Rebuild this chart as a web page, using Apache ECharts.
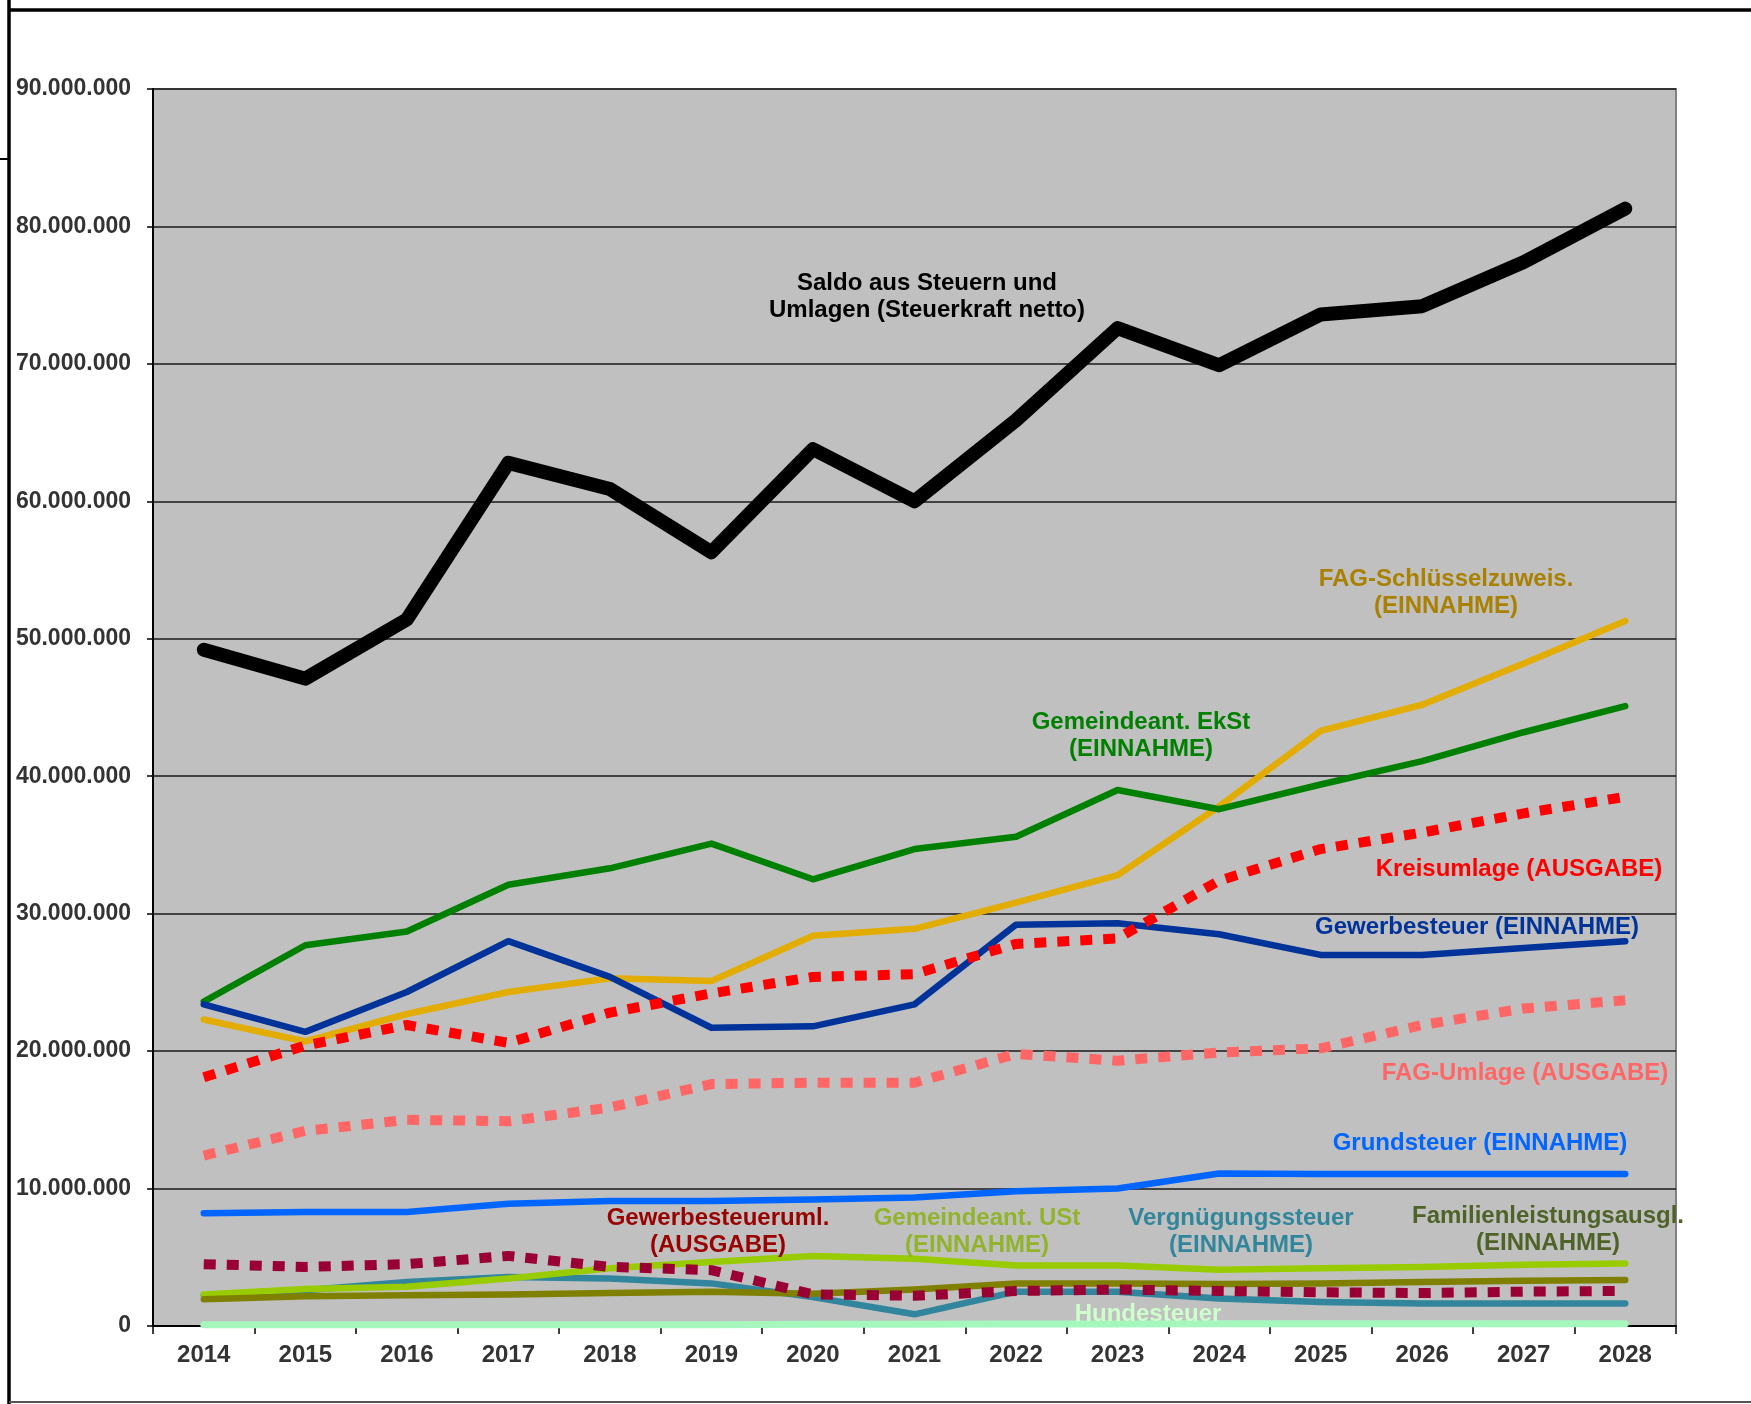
<!DOCTYPE html>
<html>
<head>
<meta charset="utf-8">
<script src="https://cdn.jsdelivr.net/npm/echarts@6/dist/echarts.min.js"></script>
<style>
html,body{margin:0;padding:0;background:#fff;}
#chart{width:1751px;height:1404px;}
</style>
</head>
<body>
<div id="chart"></div>
<script>
const years = ['2014','2015','2016','2017','2018','2019','2020','2021','2022','2023','2024','2025','2026','2027','2028'];
const yTicks = [0,10000000,20000000,30000000,40000000,50000000,60000000,70000000,80000000,90000000];

const saldo = [49.2,47.1,51.4,62.8,60.9,56.3,63.8,60.0,65.9,72.6,69.9,73.6,74.2,77.4,81.3];
const fagSchluessel = [22.3,20.7,22.7,24.3,25.3,25.1,28.4,28.9,30.8,32.8,37.8,43.3,45.2,48.2,51.3];
const ekSt = [23.6,27.7,28.7,32.1,33.3,35.1,32.5,34.7,35.6,39.0,37.6,39.4,41.1,43.2,45.1];
const kreisumlage = [18.1,20.4,21.9,20.6,22.8,24.2,25.4,25.6,27.8,28.2,32.4,34.7,35.9,37.3,38.5];
const gewerbesteuer = [23.4,21.4,24.3,28.0,25.4,21.7,21.8,23.4,29.2,29.3,28.5,27.0,27.0,27.5,28.0];
const fagUmlage = [12.4,14.2,15.0,14.9,15.9,17.6,17.7,17.7,19.8,19.3,19.9,20.2,21.9,23.1,23.7];
const grundsteuer = [8.2,8.3,8.3,8.9,9.1,9.1,9.2,9.35,9.8,10.0,11.1,11.05,11.05,11.05,11.05];
const gewUmlage = [4.5,4.3,4.5,5.1,4.3,4.06,2.3,2.2,2.55,2.65,2.55,2.45,2.4,2.5,2.55];
const ust = [2.3,2.7,2.85,3.45,4.2,4.66,5.1,4.9,4.4,4.4,4.1,4.2,4.3,4.45,4.55];
const vergnuegung = [2.24,2.6,3.2,3.57,3.45,3.1,2.1,0.85,2.5,2.5,2.0,1.75,1.63,1.63,1.63];
const familien = [1.95,2.16,2.24,2.3,2.4,2.5,2.35,2.65,3.1,3.1,3.05,3.1,3.2,3.3,3.35];
const hunde = [0.1,0.1,0.1,0.1,0.1,0.1,0.12,0.13,0.14,0.15,0.16,0.17,0.17,0.17,0.17];

const M = v => v.map(x => Math.round(x * 1000000));
const fmt = v => String(v).replace(/\B(?=(\d{3})+(?!\d))/g, '.');
const FONT = '"Liberation Sans", Arial, sans-serif';

function line(name, data, color, width, dash, z) {
  return {
    name, type: 'line', data: M(data), symbol: 'none', z: z,
    lineStyle: { color, width, type: dash || 'solid', cap: dash ? 'butt' : 'round', join: 'round' },
    itemStyle: { color }, emphasis: { disabled: true }, animation: false
  };
}

function label(text, x, y, color) {
  return {
    type: 'text', x, y, z: 100,
    style: { text, fill: color, font: 'bold 24px ' + FONT, textAlign: 'center', textVerticalAlign: 'middle', lineHeight: 27 }
  };
}

const chart = echarts.init(document.getElementById('chart'));
chart.setOption({
  backgroundColor: '#ffffff',
  animation: false,
  grid: { left: 153, right: 75, top: 89, bottom: 78, show: true, backgroundColor: '#C0C0C0', borderColor: '#808080', borderWidth: 2 },
  xAxis: {
    type: 'category', data: years, boundaryGap: true,
    axisLine: { lineStyle: { color: '#000', width: 2 } },
    axisTick: { show: true, length: 8, lineStyle: { color: '#000', width: 1.5 } },
    axisLabel: { color: '#333', fontFamily: FONT, fontWeight: 'bold', fontSize: 24, margin: 17 },
    splitLine: { show: false }
  },
  yAxis: {
    type: 'value', min: yTicks[0], max: yTicks[yTicks.length - 1], interval: yTicks[1] - yTicks[0],
    axisLine: { show: true, lineStyle: { color: '#000', width: 2 } },
    axisTick: { show: true, length: 6, lineStyle: { color: '#000', width: 1.5 } },
    axisLabel: { color: '#333', fontFamily: FONT, fontWeight: 'bold', fontSize: 23, margin: 22, formatter: v => fmt(v) },
    splitLine: { show: true, lineStyle: { color: '#1a1a1a', width: 1.6 } }
  },
  series: [
    line('Hundesteuer', hunde, '#A6F7BE', 7, null, 2),
    line('Saldo', saldo, '#000000', 14, null, 20),
    line('FAG-Schlüsselzuweis.', fagSchluessel, '#E3AC00', 6.5, null, 3),
    line('Gemeindeant. EkSt', ekSt, '#008000', 6.5, null, 4),
    line('Kreisumlage', kreisumlage, '#FF0000', 10, [12, 11], 6),
    line('Gewerbesteuer', gewerbesteuer, '#003399', 6.5, null, 5),
    line('FAG-Umlage', fagUmlage, '#FF6666', 10, [12, 11], 6),
    line('Grundsteuer', grundsteuer, '#0066FF', 6.5, null, 5),
    line('Vergnügungssteuer', vergnuegung, '#31859C', 6.5, null, 3),
    line('Gemeindeant. USt', ust, '#99CC00', 6.5, null, 4),
    line('Familienleistungsausgl.', familien, '#808000', 6.5, null, 5),
    line('Gewerbesteuerumlage', gewUmlage, '#990033', 10, [12, 11], 7)
  ],
  graphic: [
    { type: 'line', shape: { x1: 9, y1: 0, x2: 9, y2: 1404 }, style: { stroke: '#000', lineWidth: 3.5 }, z: 50 },
    { type: 'line', shape: { x1: 9, y1: 10, x2: 1751, y2: 10 }, style: { stroke: '#000', lineWidth: 3.5 }, z: 50 },
    { type: 'line', shape: { x1: 9, y1: 1402, x2: 1751, y2: 1402 }, style: { stroke: '#555', lineWidth: 2 }, z: 50 },
    { type: 'line', shape: { x1: 0, y1: 159, x2: 9, y2: 159 }, style: { stroke: '#000', lineWidth: 2 }, z: 50 },
    label('Saldo aus Steuern und\nUmlagen (Steuerkraft netto)', 927, 297, '#000000'),
    label('FAG-Schlüsselzuweis.\n(EINNAHME)', 1446, 593, '#A98000'),
    label('Gemeindeant. EkSt\n(EINNAHME)', 1141, 736, '#008000'),
    label('Kreisumlage (AUSGABE)', 1519, 869, '#FF0000'),
    label('Gewerbesteuer (EINNAHME)', 1477, 927, '#003399'),
    label('FAG-Umlage (AUSGABE)', 1525, 1073, '#FF6666'),
    label('Grundsteuer (EINNAHME)', 1480, 1143, '#0066FF'),
    label('Gewerbesteueruml.\n(AUSGABE)', 718, 1232, '#990000'),
    label('Gemeindeant. USt\n(EINNAHME)', 977, 1232, '#92B32C'),
    label('Vergnügungssteuer\n(EINNAHME)', 1241, 1232, '#31869B'),
    label('Familienleistungsausgl.\n(EINNAHME)', 1548, 1230, '#4F6228'),
    label('Hundesteuer', 1148, 1314, '#CCFFCC')
  ]
});
</script>
</body>
</html>
